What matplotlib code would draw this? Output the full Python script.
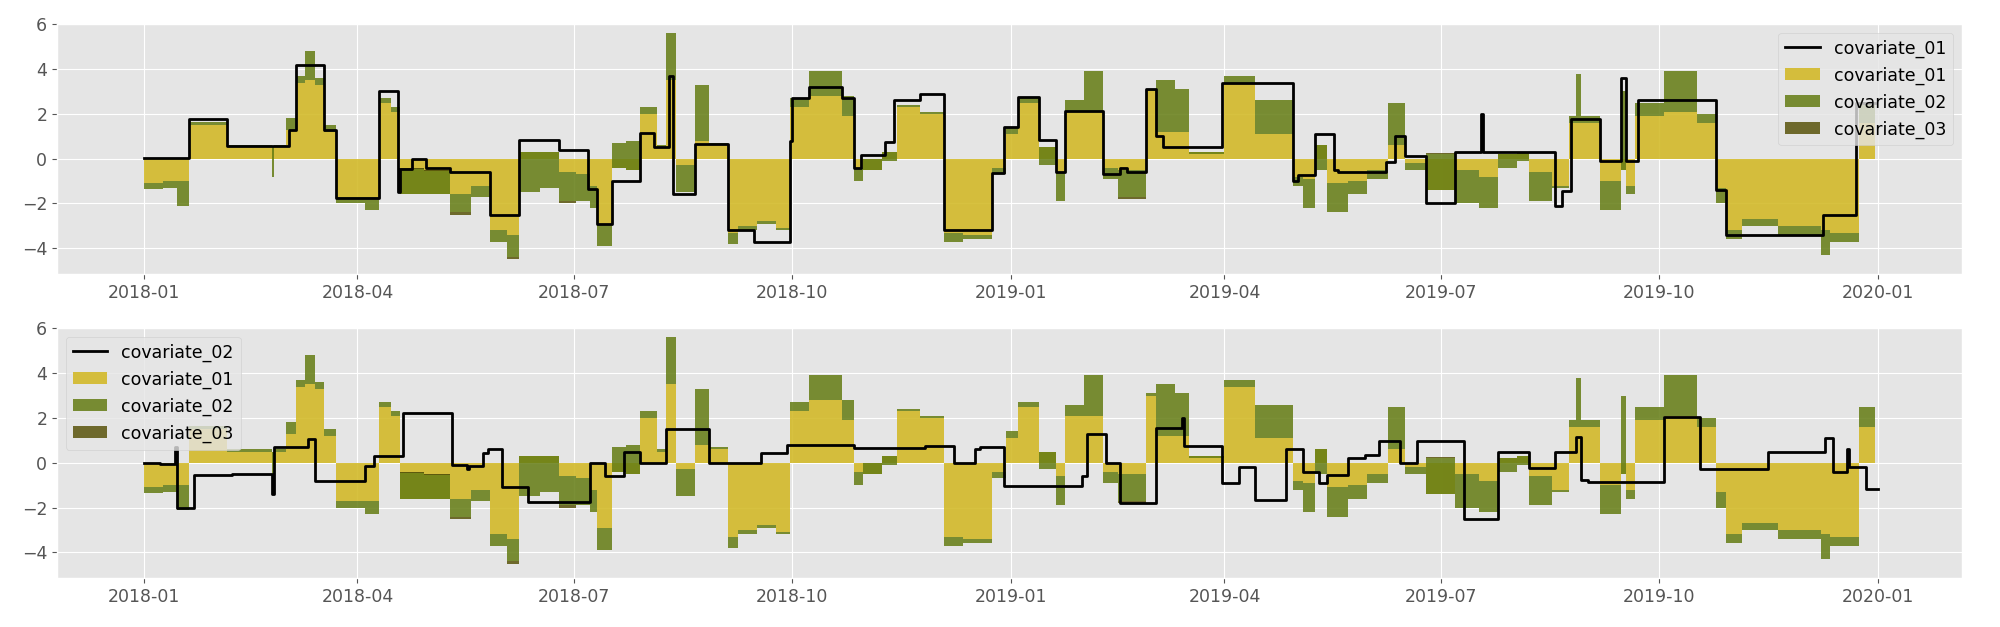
import numpy as np
import pandas as pd
import matplotlib
matplotlib.use('Agg')
import matplotlib.pyplot as plt
import matplotlib.dates as mdates

plt.style.use('ggplot')

START = pd.Timestamp('2018-01-01')

# stacked contributions, step segments starting at day offset from 2018-01-01
fill_days = [0, 8, 14, 19, 35, 54, 55, 60, 64, 68, 72, 76, 81, 93, 99, 104,
             108, 118, 129, 138, 146, 153, 158, 167, 175, 182, 188, 191, 197, 203,
             209, 216, 220, 224, 232, 238, 246, 250, 258, 266, 272, 280, 294, 299,
             303, 311, 317, 327, 337, 345, 357, 363, 368, 377, 384, 388, 396, 404,
             410, 422, 426, 434, 440, 455, 468, 484, 488, 493, 498, 507, 515, 524,
             531, 540, 552, 562, 570, 578, 583, 593, 600, 603, 605, 613, 622, 624,
             628, 640, 654, 662, 666, 673, 688, 706, 710, 722, 729]
cov01 = [-1.1, -1.0, -1.0, 1.5, 0.5, 0.5, 0.5, 1.3, 3.4, 3.5, 3.3, 1.2, -1.7, -1.7, 2.5, 2.1,
         -1.6, -1.6, -1.6, -1.2, -3.2, -3.4, 0.3, 0.3, -0.6, -0.7, -1.2, -2.9, -0.4, -0.5,
         2.0, 0.5, 3.5, -0.3, 0.8, 0.6, -3.3, -3.0, -2.8, -3.1, 2.3, 2.8, 1.9, -0.4,
         -0.5, 0.3, 2.3, 2.0, -3.3, -3.4, -0.4, 1.1, 2.5, 0.5, -0.6, 2.1, 2.1, -0.4,
         -0.5, 3.0, 1.2, 1.2, 0.3, 3.4, 1.1, -0.8, -0.9, 0.6, -1.1, -1.0, -0.5, 0.6,
         -0.2, -1.4, -0.5, -0.8, 0.2, 0.3, -0.6, -1.2, 1.6, 1.6, 1.6, -1.0, -0.5, -1.2,
         1.9, 2.1, 1.6, -1.3, -3.2, -2.7, -3.0, -3.2, -3.3, 1.6, 1.6]
cov02 = [-0.25, -0.3, -1.1, 0.15, 0.12, -1.3, 0.1, 0.5, 0.3, 1.3, 0.3, 0.3, -0.3, -0.6, 0.2, 0.2,
         1.2, 1.1, -0.8, -0.5, -0.5, -1.0, -1.8, -1.6, -1.3, -1.2, -1.0, -1.0, 1.1, 1.3,
         0.3, 0.1, 2.1, -1.2, 2.5, 0.1, -0.5, -0.2, -0.1, -0.1, 0.4, 1.1, 0.9, -0.6,
         0.5, -0.4, 0.1, 0.1, -0.4, -0.2, -0.3, 0.3, 0.2, -0.8, -1.3, 0.5, 1.8, -0.5,
         -1.2, 0.1, 2.3, 1.9, -0.1, 0.3, 1.5, -0.4, -1.3, -1.1, -1.3, -0.6, -0.4, 1.9,
         -0.3, 1.6, -1.5, -1.4, -0.6, -0.4, -1.3, -0.1, 0.3, 2.2, 0.3, -1.3, 3.5, -0.4,
         0.6, 1.8, 0.4, -0.7, -0.4, -0.3, -0.4, -1.1, -0.4, 0.9, 0.9]
cov03 = [0, 0, 0, 0, 0, 0, 0, 0, 0, 0, 0, 0, 0, 0, 0, 0,
         -0.05, -0.05, -0.1, 0, 0, -0.1, 0, 0, -0.1, 0, 0, 0, 0, 0,
         0, 0, 0, 0, 0, 0, 0, 0, 0, 0, 0, 0, 0, 0,
         0, 0, 0, 0, 0, 0, 0, 0, 0, 0, 0, 0, 0, 0,
         -0.1, 0, 0, 0, 0, 0, 0, 0, 0, 0, 0, 0, 0, 0,
         0, 0.05, 0, 0, 0, 0, 0, 0, 0, 0, 0, 0, 0, 0,
         0, 0, 0, 0, 0, 0, 0, 0, 0, 0, 0]

# covariate_01 value (top panel line)
line1_days = [0, 19, 35, 61, 64, 76, 81, 99, 107, 108, 113, 119, 129, 146, 158, 175,
              187, 191, 197, 209, 215, 221, 223, 232, 246, 257, 272, 273, 280, 294,
              299, 302, 312, 316, 327, 337, 357, 362, 368, 377, 384, 388, 404, 411,
              414, 422, 426, 429, 454, 484, 486, 493, 501, 503, 523, 527, 531, 540,
              552, 563, 564, 594, 597, 601, 613, 622, 624, 629, 662, 666, 707, 721, 729]
line1_vals = [0.05, 1.75, 0.55, 1.3, 4.2, 1.3, -1.75, 3.0, -1.5, -0.45, 0.0, -0.4, -0.6, -2.5, 0.85, 0.4,
              -1.35, -2.9, -1.0, 1.15, 0.5, 3.7, -1.6, 0.65, -3.2, -3.7, 0.8, 2.7, 3.2, 2.7,
              -0.4, 0.15, 0.75, 2.6, 2.9, -3.2, -0.65, 1.4, 2.75, 0.85, -0.6, 2.15, -0.7, -0.4,
              -0.6, 3.1, 1.0, 0.5, 3.4, -1.0, -0.75, 1.1, -0.5, -0.6, -0.15, 1.0, 0.13, -2.0,
              0.3, 2.0, 0.3, -2.1, -1.45, 1.75, -0.1, 3.6, -0.1, 2.6, -1.4, -3.4, -2.5, 2.5, 2.5]

# covariate_02 value (bottom panel line)
line2_days = [0, 7, 13, 14, 21, 37, 54, 55, 69, 72, 93, 97, 109, 130, 136, 137, 143, 145,
              151, 162, 188, 194, 202, 209, 220, 238, 260, 271, 299, 329, 341, 350, 352,
              362, 395, 397, 405, 411, 426, 437, 438, 454, 461, 468, 481, 488, 495, 498,
              507, 514, 520, 529, 536, 556, 570, 583, 594, 603, 605, 608, 640, 655, 684,
              708, 711, 717, 718, 725, 730]
line2_vals = [0.0, -0.05, 0.7, -2.0, -0.55, -0.5, -1.4, 0.7, 1.05, -0.8, -0.15, 0.3, 2.2, -0.1, -0.3, -0.15, 0.45, 0.6,
              -1.1, -1.75, 0.0, -0.6, 0.5, 0.0, 1.5, 0.0, 0.45, 0.8, 0.65, 0.75, 0.0, 0.6, 0.7,
              -1.05, -0.6, 1.3, 0.0, -1.8, 1.55, 2.0, 0.75, -0.9, -0.2, -1.65, 0.6, -0.4, -0.9, -0.55,
              0.2, 0.35, 0.95, 0.0, 0.95, -2.5, 0.5, -0.25, 0.5, 1.15, -0.75, -0.85, 2.05, -0.3, 0.5,
              1.1, -0.4, 0.6, -0.2, -1.15, -1.15]

fill_labels = ['covariate_01', 'covariate_02', 'covariate_03']
fill_colors = ['#d1b71e', '#647c13', '#59530c']


def to_dates(days):
    return START + pd.to_timedelta(days, unit='D')


fig = plt.figure(figsize=(20, 6.27), dpi=100)
ax_top = fig.add_axes([0.0285, 0.563, 0.9525, 0.399])
ax_bot = fig.add_axes([0.0285, 0.078, 0.9525, 0.399])

fill_x = to_dates(fill_days)
panels = [(ax_top, line1_days, line1_vals, 'covariate_01', 'upper right'),
          (ax_bot, line2_days, line2_vals, 'covariate_02', 'upper left')]

for ax, ldays, lvals, lname, loc in panels:
    polys = ax.stackplot(fill_x, cov01, cov02, cov03, step='post',
                         colors=fill_colors, alpha=0.85, labels=fill_labels,
                         linewidth=0)
    line, = ax.plot(to_dates(ldays), lvals, drawstyle='steps-post',
                    color='black', lw=2, label=lname)
    ax.legend(handles=[line] + list(polys), loc=loc, fontsize=12.5,
              facecolor='#e5e5e5', framealpha=0.8)
    ax.set_xlim(START - pd.Timedelta(days=36.5), START + pd.Timedelta(days=765.5))
    ax.set_ylim(-5.15, 6.02)
    ax.set_yticks([-4, -2, 0, 2, 4, 6])
    ax.xaxis.set_major_locator(mdates.MonthLocator(bymonth=[1, 4, 7, 10]))
    ax.xaxis.set_major_formatter(mdates.DateFormatter('%Y-%m'))
    ax.tick_params(labelsize=12.5, colors='#555555')

fig.savefig('out.png', dpi=100)
